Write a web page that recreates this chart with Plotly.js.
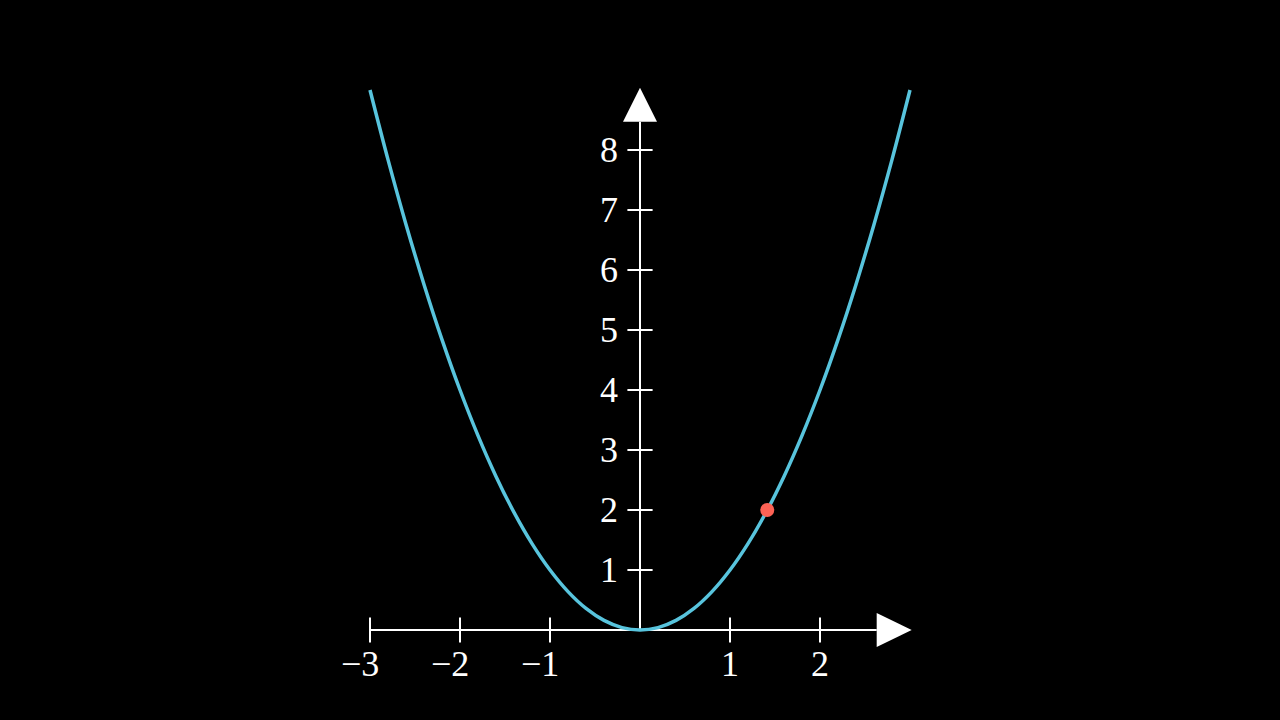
<!DOCTYPE html>
<html>
<head>
<meta charset="utf-8">
<script src="https://cdn.plot.ly/plotly-3.0.1.min.js"></script>
<style>html,body{margin:0;padding:0;background:#000;}#chart{width:1280px;height:720px;}</style>
</head>
<body>
<div id="chart"></div>
<script>
// Curve values (parabola through the origin)
const curveX = [-3,-2.8,-2.6,-2.4,-2.2,-2,-1.8,-1.6,-1.4,-1.2,-1,-0.8,-0.6,-0.4,-0.2,0,0.2,0.4,0.6,0.8,1,1.2,1.4,1.6,1.8,2,2.2,2.4,2.6,2.8,3];
const curveY = [9,7.84,6.76,5.76,4.84,4,3.24,2.56,1.96,1.44,1,0.64,0.36,0.16,0.04,0,0.04,0.16,0.36,0.64,1,1.44,1.96,2.56,3.24,4,4.84,5.76,6.76,7.84,9];
// Highlighted point
const dotX = [1.414];
const dotY = [2];
// Axis ticks and labels
const xTicks = [-3,-2,-1,1,2];
const xLabels = ["\u22123","\u22122","\u22121","1","2"];
const yTicks = [1,2,3,4,5,6,7,8];
const yLabels = ["1","2","3","4","5","6","7","8"];
// Axis extents
const xAxisSpan = [-3, 2.63];
const yAxisSpan = [0, 8.47];

const white = '#FFFFFF';
const font = {family: 'Liberation Serif, DejaVu Serif, serif', size: 36, color: white};

const traces = [
  {x: xAxisSpan, y: [0,0], mode: 'lines', line: {color: white, width: 2}, hoverinfo: 'skip'},
  {x: [0,0], y: yAxisSpan, mode: 'lines', line: {color: white, width: 2}, hoverinfo: 'skip'},
  {x: xTicks, y: xTicks.map(() => 0), mode: 'markers',
   marker: {symbol: 'line-ns', size: 18, line: {color: white, width: 2}}, hoverinfo: 'skip'},
  {x: yTicks.map(() => 0), y: yTicks, mode: 'markers',
   marker: {symbol: 'line-ew', size: 18, line: {color: white, width: 2}}, hoverinfo: 'skip'},
  {x: curveX, y: curveY, mode: 'lines', line: {color: '#58C4DD', width: 3.5, shape: 'spline'}},
  {x: dotX, y: dotY, mode: 'markers', marker: {color: '#FC6255', size: 14}}
];

const annotations = [];
xTicks.forEach((t, i) => annotations.push({
  x: t, y: 0, xref: 'x', yref: 'y', text: xLabels[i], showarrow: false,
  xanchor: 'right', yanchor: 'middle', xshift: 11, yshift: -34, font: font
}));
yTicks.forEach((t, i) => annotations.push({
  x: 0, y: t, xref: 'x', yref: 'y', text: yLabels[i], showarrow: false,
  xanchor: 'right', yanchor: 'middle', xshift: -20, yshift: 0, font: font
}));

const shapes = [
  {type: 'path', xref: 'x', yref: 'y', xsizemode: 'pixel', ysizemode: 'pixel',
   xanchor: xAxisSpan[1], yanchor: 0, path: 'M0,-17 L35,0 L0,17 Z',
   fillcolor: white, line: {width: 0}},
  {type: 'path', xref: 'x', yref: 'y', xsizemode: 'pixel', ysizemode: 'pixel',
   xanchor: 0, yanchor: yAxisSpan[1], path: 'M-17,0 L17,0 L0,34 Z',
   fillcolor: white, line: {width: 0}}
];

const layout = {
  width: 1280, height: 720,
  margin: {l: 0, r: 0, t: 0, b: 0},
  paper_bgcolor: '#000000', plot_bgcolor: '#000000',
  showlegend: false,
  xaxis: {range: [-640/90, 640/90], visible: false, fixedrange: true},
  yaxis: {range: [-1.5, 10.5], visible: false, fixedrange: true},
  annotations: annotations,
  shapes: shapes
};

Plotly.newPlot('chart', traces, layout, {displayModeBar: false, staticPlot: true});
</script>
</body>
</html>
